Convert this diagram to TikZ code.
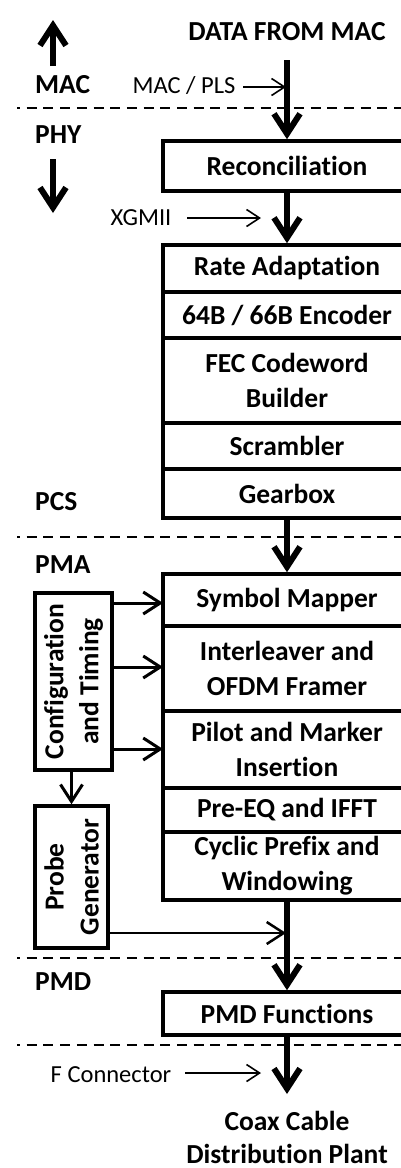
\documentclass[tikz,border=0pt]{standalone}
\usepackage{fontspec}
\setmainfont{Carlito}[Ligatures=NoCommon]
\usetikzlibrary{arrows.meta}
\begin{document}
\begin{tikzpicture}[x=1pt,y=-1pt,
  bigfont/.style={font=\fontsize{27.5}{35}\selectfont\bfseries},
  lbl/.style={bigfont, inner sep=0pt, anchor=base west},
  smalllbl/.style={font=\fontsize{24.5}{30}\selectfont, inner sep=0pt, anchor=base},
  blk/.style={draw, line width=3.5pt, minimum width=248pt, inner sep=0pt, align=center, bigfont},
  sidebox/.style={draw, line width=3.5pt, inner sep=0pt},
  heavyarrow/.style={line width=6pt, -{Straight Barb[length=20pt,width=26pt]}},
  midarrow/.style={line width=3pt, -{Straight Barb[length=17pt,width=22pt]}},
  lightarrow/.style={line width=1.6pt, -{Straight Barb[length=13pt,width=17pt]}},
  layerline/.style={line width=2pt, dash pattern=on 10pt off 6.7pt, dash phase=7pt}
]
\useasboundingbox (0,0) rectangle (401,1168);
\clip (0,0) rectangle (401,1168);

% layer separators
\draw[layerline] (17,108) -- (410,108);
\draw[layerline] (17,537) -- (410,537);
\draw[layerline] (17,958) -- (410,958);
\draw[layerline] (17,1045) -- (410,1045);

% left labels
\node[bigfont, inner sep=0pt, anchor=base] (dfm) at (287,40) {DATA FROM MAC};
\node[lbl] (lmac) at (35,93) {MAC};
\node[lbl] (lphy) at (35,143) {PHY};
\node[lbl] (lpcs) at (35,510) {PCS};
\node[lbl] (lpma) at (35,573) {PMA};
\node[lbl] (lpmd) at (35,990) {PMD};

% up / down arrows
\coordinate (upA) at (53,66);
\coordinate (upB) at (53,20);
\coordinate (dnA) at (53,159);
\coordinate (dnB) at (53,213);
\draw[heavyarrow] (upA) -- (upB);
\draw[heavyarrow] (dnA) -- (dnB);

% main blocks
\node[blk, minimum height=50pt] (rec) at (287,166) {Reconciliation};

\node[blk, minimum height=47pt] (ra) at (287,268.5) {Rate Adaptation};
\node[blk, minimum height=46pt] (enc) at (287,315) {64B / 66B Encoder};
\node[blk, minimum height=85pt] (fec) at (287,380.5) {FEC Codeword\\Builder};
\node[blk, minimum height=46pt] (scr) at (287,446) {Scrambler};
\node[blk, minimum height=49pt] (gear) at (287,493.5) {Gearbox};

\node[blk, minimum height=52pt] (sym) at (287,600) {Symbol Mapper};
\node[blk, minimum height=85pt] (intl) at (287,668.5) {Interleaver and\\OFDM Framer};
\node[blk, minimum height=77pt] (pilot) at (287,749.5) {Pilot and Marker\\Insertion};
\node[blk, minimum height=44pt] (preq) at (287,810) {Pre-EQ and IFFT};
\node[blk, minimum height=68pt] (cp) at (287,866) {Cyclic Prefix and\\Windowing};

\node[blk, minimum height=43pt] (pmd) at (287,1013.5) {PMD Functions};

% side boxes
\node[sidebox, minimum width=77pt, minimum height=177pt] (cfg) at (73.5,681.5) {};
\node[bigfont, inner sep=0pt, rotate=90, align=center] (cfgtxt) at (cfg.center) {Configuration\\and Timing};
\node[sidebox, minimum width=73pt, minimum height=142pt] (prb) at (71.5,877) {};
\node[bigfont, inner sep=0pt, rotate=90, align=center] (prbtxt) at (prb.center) {Probe\\Generator};

% interface labels
\node[smalllbl] (macpls) at (184,93) {MAC / PLS};
\node[smalllbl] (xgmii) at (141,225) {XGMII};
\node[smalllbl] (fconn) at (111,1082) {F Connector};

% bottom label
\node[inner sep=0pt, align=center, anchor=base, font=\fontsize{27.5}{33}\selectfont\bfseries] (coax) at (287,1163) {Coax Cable\\Distribution Plant};

% main flow arrows
\coordinate (dtop) at (287,60);
\draw[heavyarrow] (dtop) -- (rec.north);
\draw[heavyarrow] (rec.south) -- (ra.north);
\draw[heavyarrow] (gear.south) -- (sym.north);
\draw[heavyarrow] (cp.south) -- (pmd.north);
\coordinate (pend) at (287,1094);
\draw[heavyarrow] (pmd.south) -- (pend);

% interface arrows
\coordinate (mpA) at (243,87);
\coordinate (mpB) at (286,87);
\draw[lightarrow] (mpA) -- (mpB);
\coordinate (xgA) at (187,218);
\coordinate (xgB) at (261,218);
\draw[lightarrow] (xgA) -- (xgB);
\coordinate (fcA) at (185,1073);
\coordinate (fcB) at (261,1073);
\draw[lightarrow] (fcA) -- (fcB);

% configuration arrows
\coordinate (c1) at (163,603);
\coordinate (c2) at (163,667);
\coordinate (c3) at (163,749);
\draw[midarrow] (cfg.east |- c1) -- (c1);
\draw[midarrow] (cfg.east |- c2) -- (c2);
\draw[midarrow] (cfg.east |- c3) -- (c3);
\draw[midarrow] (cfg.south -| prb.north) -- (prb.north);

% probe arrow
\coordinate (jn) at (286,933);
\draw[midarrow, line width=2.5pt] (prb.east |- jn) -- (jn);
\end{tikzpicture}
\end{document}
